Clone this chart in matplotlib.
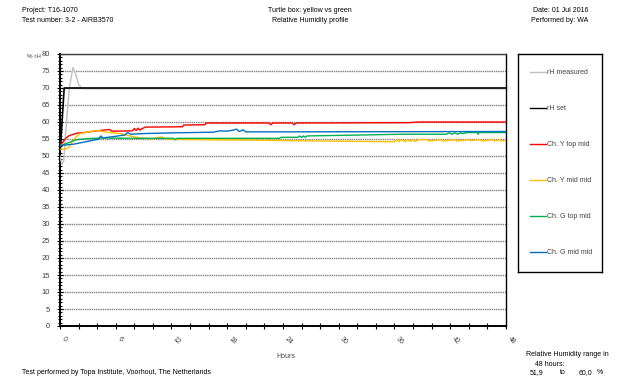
import numpy as np
import matplotlib
matplotlib.use('Agg')
import matplotlib.pyplot as plt
from matplotlib.ticker import MultipleLocator

plt.rcParams['font.family'] = ['Liberation Sans', 'DejaVu Sans']

# Series data (hours, % rH)
meas_h = [0, 0.2, 0.4, 0.7, 1.0, 1.4, 1.7, 2.0, 2.4, 10, 20, 30, 40, 48]
meas_v = [50.0, 47.5, 48.5, 60.0, 70.0, 76.0, 74.0, 71.0, 69.8, 69.8, 69.8, 69.8, 69.8, 69.8]

set_h = [0.05, 0.45, 48]
set_v = [52.5, 70.0, 70.0]

ytop_h = [0, 0.3, 0.6, 1.0, 1.8, 2.9, 4.0, 5.3, 5.6, 7.8, 8.0, 8.2, 8.4, 8.6, 8.8, 9.2,
          13.2, 13.3, 15.6, 15.7, 22.5, 22.7, 22.9, 25.0, 25.2, 25.4, 37.5, 38.7, 48]
ytop_v = [53.2, 54.0, 55.2, 56.0, 56.7, 57.0, 57.4, 57.8, 57.3, 57.4, 58.1, 57.5, 58.2, 57.6, 58.0, 58.5,
          58.6, 59.1, 59.2, 59.7, 59.7, 59.2, 59.7, 59.7, 59.2, 59.7, 59.8, 60.0, 60.0]

ymid_h = [0, 0.5, 1.0, 1.4, 1.8, 2.2, 3.2, 4.0, 5.0, 6.5, 7.2, 8.6, 10.0, 10.8, 11.0, 11.3, 12.0,
          20.0, 28.0, 36.0, 36.2, 36.5, 36.7, 37.2, 37.4, 37.7, 37.9, 38.3, 38.5, 39.5, 39.7,
          41.0, 41.2, 42.5, 42.7, 44.0, 44.2, 45.2, 45.4, 46.6, 46.8, 47.3, 47.5, 48]
ymid_v = [52.0, 52.0, 52.6, 54.6, 55.8, 56.6, 57.2, 57.5, 57.0, 56.6, 56.1, 55.3, 55.0, 55.6, 55.6, 55.0, 54.9,
          54.7, 54.4, 54.2, 54.8, 54.2, 54.8, 54.2, 54.8, 54.3, 54.8, 54.3, 54.8, 54.8, 54.4,
          54.8, 54.4, 54.8, 54.4, 54.8, 54.5, 54.8, 54.4, 54.8, 54.4, 54.8, 54.4, 54.6]

gtop_h = [0, 1.0, 1.8, 2.9, 4.5, 8.0, 12.2, 12.4, 12.6, 23.6, 23.8, 25.6, 25.8, 26.0, 26.2, 26.4, 26.6,
          28.8, 36.8, 41.6, 41.9, 42.2, 42.5, 42.8, 43.1, 43.4, 43.8, 44.9, 45.0, 45.1, 48]
gtop_v = [53.0, 54.0, 54.8, 55.1, 55.3, 55.2, 55.2, 54.8, 55.2, 55.2, 55.5, 55.5, 55.9, 55.5, 55.9, 55.5, 55.9,
          56.0, 56.4, 56.4, 56.8, 56.4, 56.8, 56.4, 56.8, 56.6, 56.9, 56.9, 56.4, 56.9, 56.9]

gmid_h = [0, 0.5, 1.5, 3.0, 4.2, 4.4, 4.6, 6.0, 7.0, 7.3, 7.6, 9.0, 12.0, 16.5, 17.2, 18.0, 18.6,
          19.0, 19.3, 19.7, 20.0, 24, 48]
gmid_v = [53.0, 53.2, 53.5, 54.3, 55.0, 55.9, 55.3, 55.8, 56.2, 56.9, 56.4, 56.6, 56.8, 57.0, 57.4, 57.3, 57.6,
          57.9, 57.2, 57.7, 57.1, 57.1, 57.2]

names = ['rH measured', 'rH set', 'Ch. Y top mid', 'Ch. Y mid mid', 'Ch. G top mid', 'Ch. G mid mid']
colors = ['#c0c0c0', '#000000', '#ff0000', '#ffc000', '#00b050', '#0070c0']
series = [(meas_h, meas_v), (set_h, set_v), (ytop_h, ytop_v), (ymid_h, ymid_v),
          (gtop_h, gtop_v), (gmid_h, gmid_v)]

fig = plt.figure(figsize=(6.19, 3.81), dpi=100)
ax = fig.add_axes([60 / 619, 1 - 326 / 381, 446 / 619, 272 / 381])

for (h, v), c, n in zip(series, colors, names):
    lw = 1.2 if n == 'rH set' else 1.0
    ax.plot(h, v, color=c, lw=lw, label=n, zorder=3)

ax.set_xlim(0, 48)
ax.set_ylim(0, 80)
ax.yaxis.set_major_locator(MultipleLocator(5))
ax.yaxis.set_minor_locator(MultipleLocator(1))
ax.xaxis.set_major_locator(MultipleLocator(6))
ax.xaxis.set_minor_locator(MultipleLocator(2))
ax.grid(axis='y', which='major', color='#808080', lw=1.0, linestyle=(0, (1, 0.6)), zorder=1)

ax.tick_params(axis='both', which='both', direction='inout', color='black', width=0.8)
ax.tick_params(axis='y', which='major', length=4, labelsize=5.5, labelcolor='#404040', pad=5)
ax.tick_params(axis='y', which='minor', length=3)
ax.tick_params(axis='x', which='both', length=4, labelsize=5, labelcolor='#404040', pad=5)
for lab in ax.get_xticklabels():
    lab.set_rotation(-45)
    lab.set_ha('left')

for s in ['left', 'bottom']:
    ax.spines[s].set_linewidth(1.4)
ax.spines['right'].set_linewidth(1.0)
ax.spines['top'].set_linewidth(1.0)
ax.spines['top'].set_color('#404040')

ax.set_xlabel('Hours', fontsize=5, color='#404040')
ax.xaxis.set_label_coords((286 - 60) / 446, -(353 - 326) / 272)
fig.text(27 / 619, 1 - 57 / 381, '% rH', fontsize=4.5, color='#404040', va='center')

# legend box drawn in its own axes
lax = fig.add_axes([518 / 619, 1 - 272 / 381, 84 / 619, 218 / 381])
lax.set_xlim(0, 84)
lax.set_ylim(218, 0)
lax.set_xticks([])
lax.set_yticks([])
for s in lax.spines.values():
    s.set_linewidth(1.0)
for i, (n, c) in enumerate(zip(names, colors)):
    y = 18 + i * 36
    lax.plot([12, 28], [y, y], color=c, lw=1.0)
    lax.text(29, y, n, fontsize=5, color='#404040', va='center')

# header and footer texts
fs = 5
fig.text(22 / 619, 1 - 10 / 381, 'Project: T16-1070', fontsize=fs, va='center')
fig.text(22 / 619, 1 - 20 / 381, 'Test number: 3-2 - AIRB3570', fontsize=fs, va='center')
fig.text(310 / 619, 1 - 10 / 381, 'Turtle box: yellow vs green', fontsize=fs, ha='center', va='center')
fig.text(310 / 619, 1 - 20 / 381, 'Relative Humidity profile', fontsize=fs, ha='center', va='center')
fig.text(588 / 619, 1 - 10 / 381, 'Date: 01 Jul 2016', fontsize=fs, ha='right', va='center')
fig.text(588 / 619, 1 - 20 / 381, 'Performed by: WA', fontsize=fs, ha='right', va='center')

fig.text(22 / 619, 1 - 373 / 381, 'Test performed by Topa Institute, Voorhout, The Netherlands',
         fontsize=fs, va='center')
fig.text(567 / 619, 1 - 355 / 381, 'Relative Humidity range in', fontsize=fs, ha='center', va='center')
fig.text(550 / 619, 1 - 364 / 381, '48 hours:', fontsize=fs, ha='center', va='center')
fig.text(537 / 619, 1 - 373 / 381, '51,9', fontsize=fs, ha='center', va='center')
fig.text(563 / 619, 1 - 373 / 381, 'to', fontsize=fs, ha='center', va='center')
fig.text(585 / 619, 1 - 373 / 381, '60,0', fontsize=fs, ha='center', va='center')
fig.text(600 / 619, 1 - 373 / 381, '%', fontsize=fs, ha='center', va='center')

fig.savefig('out.png', dpi=100)
